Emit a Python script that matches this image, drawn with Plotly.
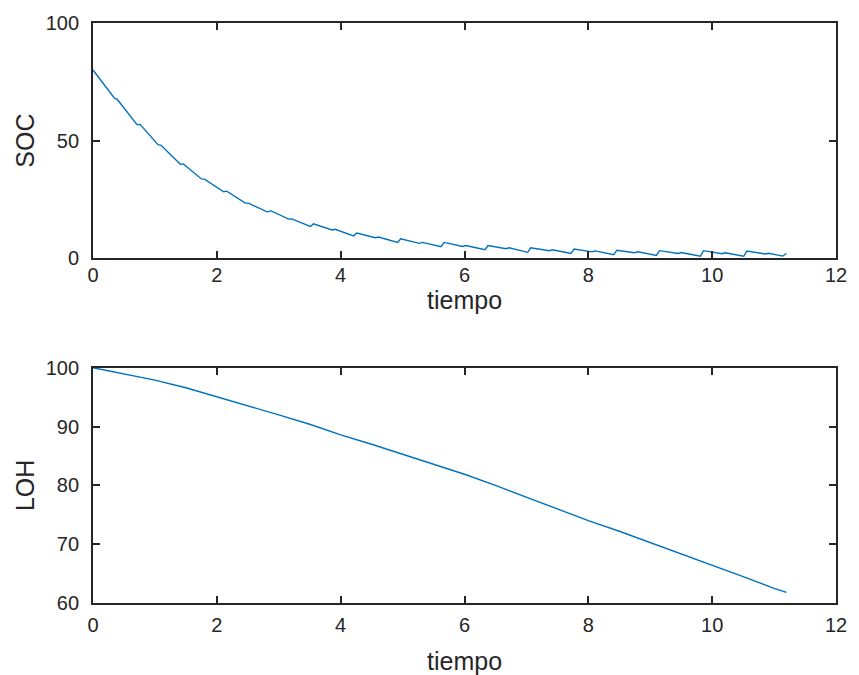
import plotly.graph_objects as go
from plotly.subplots import make_subplots

# SOC series
t_soc = [0, 0.35, 0.39, 0.71, 0.76, 1.05, 1.10, 1.41, 1.46, 1.75, 1.80, 2.11, 2.16,
         2.46, 2.51, 2.82, 2.87, 3.16, 3.21, 3.51, 3.56, 3.86, 3.91, 4.21, 4.26,
         4.56, 4.61, 4.92, 4.97, 5.27, 5.32, 5.62, 5.67, 5.97, 6.02, 6.33, 6.38,
         6.67, 6.72, 7.02, 7.07, 7.37, 7.42, 7.72, 7.77, 8.06, 8.11, 8.41, 8.46,
         8.75, 8.80, 9.10, 9.15, 9.45, 9.50, 9.81, 9.86, 10.16, 10.21, 10.51, 10.56,
         10.86, 10.91, 11.14, 11.2]
soc = [80, 67.9, 67.6, 56.8, 56.9, 48.3, 48.0, 39.9, 40.1, 33.7, 33.6, 28.2, 28.5,
       23.4, 23.4, 19.6, 20.2, 16.6, 16.7, 13.5, 14.6, 12.0, 12.3, 9.5, 10.7,
       8.7, 9.0, 6.7, 8.2, 6.3, 6.7, 4.9, 6.7, 5.0, 5.4, 3.6, 5.4,
       4.0, 4.4, 2.5, 4.4, 3.2, 3.6, 2.0, 3.9, 2.7, 3.1, 1.5, 3.4,
       2.3, 2.7, 1.2, 3.2, 2.0, 2.4, 0.8, 3.2, 1.9, 2.3, 0.8, 3.0,
       1.8, 2.1, 0.9, 2.0]

# LOH series
t_loh = [0, 0.5, 1, 1.5, 2, 2.5, 3, 3.5, 4, 4.5, 5, 5.5, 6, 6.5, 7, 7.5, 8, 8.5, 9,
         9.5, 10, 10.5, 11, 11.2]
loh = [100, 99.0, 97.9, 96.6, 95.1, 93.6, 92.0, 90.4, 88.6, 87.0, 85.3, 83.6, 81.9,
       80.0, 78.0, 76.0, 74.0, 72.2, 70.3, 68.4, 66.5, 64.5, 62.5, 61.8]

x_ticks = [0, 2, 4, 6, 8, 10, 12]
soc_ticks = [0, 50, 100]
loh_ticks = [60, 70, 80, 90, 100]
x_title = "tiempo"

line_color = "#0072BD"
text_color = "#262626"
font_family = "Liberation Sans, Arial, Helvetica, sans-serif"
title_font = dict(size=25, color=text_color, family=font_family)

fig = make_subplots(rows=2, cols=1, vertical_spacing=0.0)
fig.add_trace(go.Scatter(x=t_soc, y=soc, mode="lines",
                         line=dict(color=line_color, width=1.4)), row=1, col=1)
fig.add_trace(go.Scatter(x=t_loh, y=loh, mode="lines",
                         line=dict(color=line_color, width=1.4)), row=2, col=1)

axis_common = dict(showline=True, linecolor=text_color, linewidth=1.8, mirror="allticks",
                   ticks="inside", ticklen=7, tickwidth=1.8, tickcolor=text_color,
                   showgrid=False, zeroline=False,
                   tickfont=dict(size=20, color=text_color, family=font_family))

fig.update_xaxes(**axis_common, range=[0, 12], tickvals=x_ticks)
fig.update_xaxes(ticklabelstandoff=-2, row=1, col=1)
fig.update_xaxes(ticklabelstandoff=3, row=2, col=1)
fig.update_yaxes(**axis_common, ticklabelstandoff=8)
fig.update_yaxes(range=[0, 100], tickvals=soc_ticks, row=1, col=1,
                 title=dict(text="SOC", font=title_font, standoff=4))
fig.update_yaxes(range=[60, 100], tickvals=loh_ticks, row=2, col=1,
                 title=dict(text="LOH", font=title_font, standoff=4))

H = 675
plot_top, plot_bottom = 21, 72
plot_h = H - plot_top - plot_bottom


def paper_y(px):
    return (H - plot_bottom - px) / plot_h


fig.add_annotation(text=x_title, xref="paper", yref="paper", x=0.5, y=paper_y(299),
                   xanchor="center", yanchor="middle", showarrow=False, font=title_font)
fig.add_annotation(text=x_title, xref="paper", yref="paper", x=0.5, y=paper_y(661),
                   xanchor="center", yanchor="middle", showarrow=False, font=title_font)

fig.update_layout(
    width=859, height=H,
    margin=dict(l=93, r=14, t=plot_top, b=plot_bottom),
    plot_bgcolor="white", paper_bgcolor="white",
    showlegend=False,
    yaxis=dict(domain=[paper_y(257), 1.0]),
    yaxis2=dict(domain=[0.0, paper_y(367)]),
)

fig.write_html("out.html")
